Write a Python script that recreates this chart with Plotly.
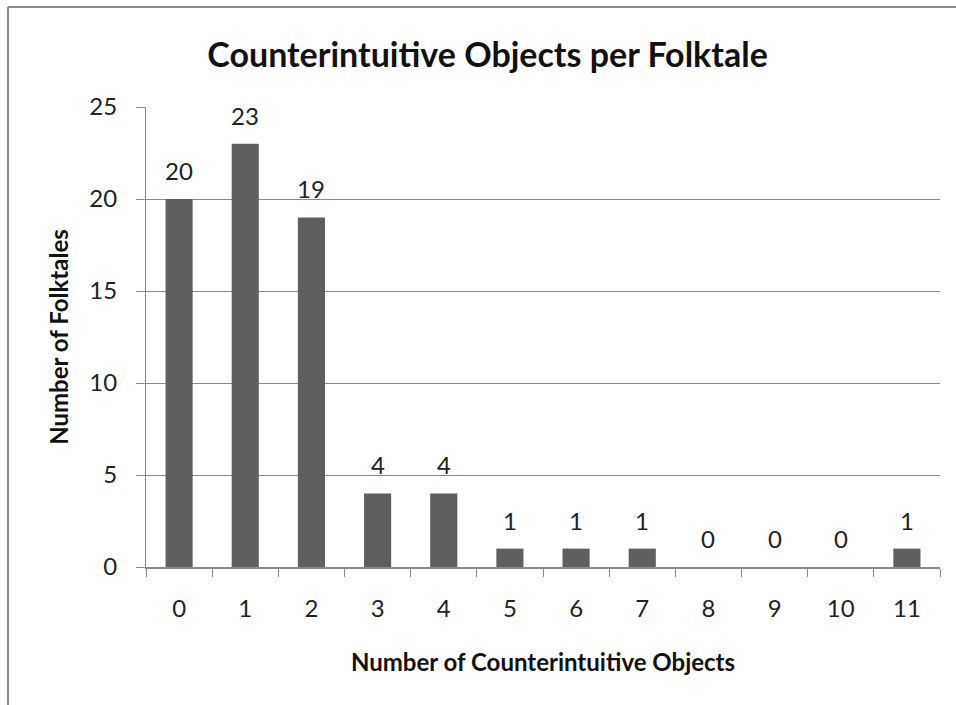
import plotly.graph_objects as go

categories = [str(i) for i in range(12)]
folktales = [20, 23, 19, 4, 4, 1, 1, 1, 0, 0, 0, 1]
y_ticks = [0, 5, 10, 15, 20, 25]

FONT = "Lato"
GRID = "#8a8a8a"
BAR = "#5f5f5f"

fig = go.Figure()
fig.add_trace(go.Bar(
    x=categories, y=folktales,
    marker=dict(color=BAR, line=dict(width=0)),
    hoverinfo="x+y",
))

annotations = [
    dict(x=c, y=v, xref="x", yref="y", text=str(v), showarrow=False,
         yanchor="bottom", yshift=12, font=dict(family=FONT, size=24, color="#222"))
    for c, v in zip(categories, folktales)
]

# outer frame (top and left edges)
shapes = [
    dict(type="line", xref="paper", yref="paper", x0=-0.1738, x1=1.03, y0=1.2174, y1=1.2174,
         line=dict(color="#8c8c8c", width=2)),
    dict(type="line", xref="paper", yref="paper", x0=-0.1738, x1=-0.1738, y0=1.2174, y1=-0.31,
         line=dict(color="#8c8c8c", width=2)),
]

fig.update_layout(
    width=956, height=705,
    margin=dict(l=146, r=16, t=107, b=138),
    paper_bgcolor="white", plot_bgcolor="white",
    bargap=0.59,
    showlegend=False,
    title=dict(text="<b>Counterintuitive Objects per Folktale</b>", x=0.51, xanchor="center",
               y=0.922, yanchor="middle", font=dict(family=FONT, size=34, color="#111")),
    xaxis=dict(
        type="category", tickson="boundaries", ticks="outside", ticklen=8, tickcolor=GRID,
        showline=True, linecolor=GRID, linewidth=2, showgrid=False,
        tickfont=dict(family=FONT, size=24, color="#222"), ticklabelstandoff=19,
        title=dict(text="<b>Number of Counterintuitive Objects</b>", standoff=33,
                   font=dict(family=FONT, size=24, color="#111")),
    ),
    yaxis=dict(
        range=[0, 25], tickvals=y_ticks, ticks="outside", ticklen=9, tickcolor=GRID,
        showline=True, linecolor=GRID, linewidth=1,
        showgrid=True, gridcolor=GRID, gridwidth=1, zeroline=False,
        tickfont=dict(family=FONT, size=24, color="#222"), ticklabelstandoff=14,
        title=dict(text="<b>Number of Folktales</b>", standoff=13,
                   font=dict(family=FONT, size=24, color="#111")),
    ),
    annotations=annotations,
    shapes=shapes,
)

fig.write_html("out.html")
